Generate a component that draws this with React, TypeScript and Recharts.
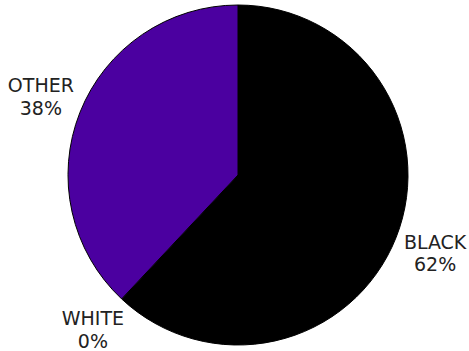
import React from 'react';
import { PieChart, Pie, Cell } from 'recharts';

const categories = ['BLACK', 'WHITE', 'OTHER'];
const shares = [62, 0, 38];
const colors = ['#000000', '#ffffff', '#4b00a0'];

const data = categories.map((name, i) => ({ name, value: shares[i] }));

const RADIAN = Math.PI / 180;

function renderLabel(props: any) {
  const { cx, cy, midAngle, outerRadius, index } = props;
  const r = outerRadius + 42;
  const x = cx + r * Math.cos(-midAngle * RADIAN);
  const y = cy + r * Math.sin(-midAngle * RADIAN);
  return (
    <text
      x={x}
      y={y}
      textAnchor="middle"
      fill="#222"
      fontSize={19}
      fontFamily="DejaVu Sans, Verdana, sans-serif"
    >
      <tspan x={x} y={y - 4.5}>{categories[index]}</tspan>
      <tspan x={x} y={y + 18.2}>{shares[index]}%</tspan>
    </text>
  );
}

export default function App() {
  return (
    <div style={{ position: 'absolute', left: 0, top: 0, background: '#fff' }}>
      <PieChart width={469} height={351} margin={{ top: 0, right: 0, bottom: 0, left: 0 }}>
        <Pie
          data={data}
          dataKey="value"
          nameKey="name"
          cx={238}
          cy={175}
          outerRadius={170}
          startAngle={90}
          endAngle={-270}
          stroke="#000"
          strokeWidth={1}
          label={renderLabel}
          labelLine={false}
          isAnimationActive={false}
        >
          {data.map((d, i) => (
            <Cell key={d.name} fill={colors[i]} />
          ))}
        </Pie>
      </PieChart>
    </div>
  );
}
